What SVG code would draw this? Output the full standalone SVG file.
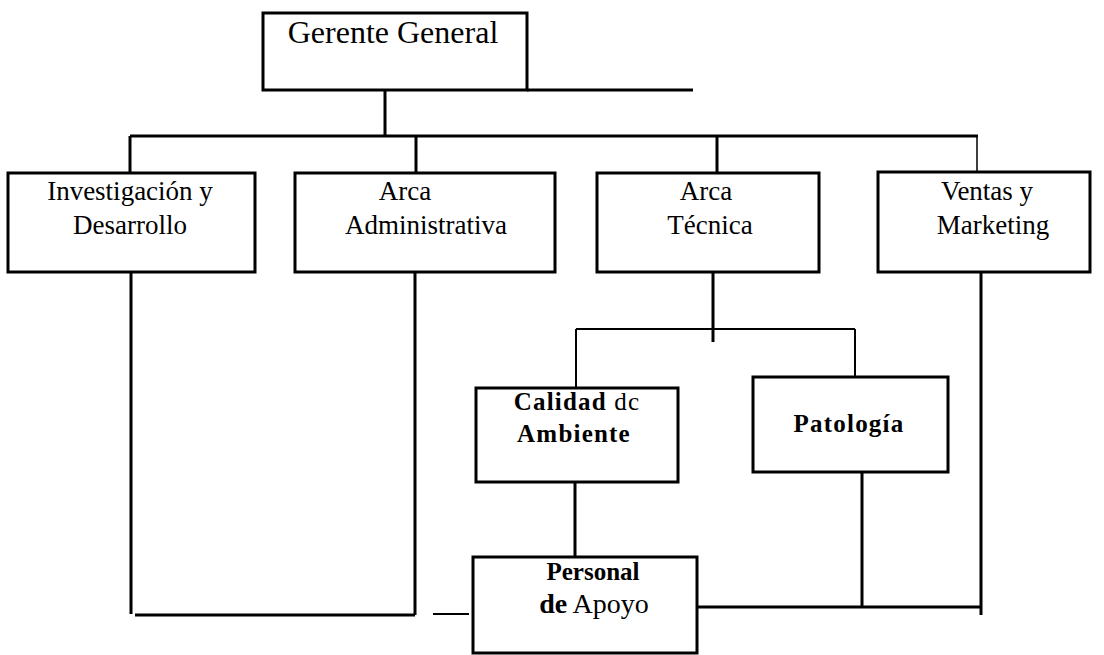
<svg xmlns="http://www.w3.org/2000/svg" width="1104" height="655" viewBox="0 0 1104 655">
<style>
.box{fill:#fff;stroke:#000;stroke-width:3}
.ln{stroke:#000;stroke-width:3;fill:none;stroke-linecap:butt}
.thin{stroke:#000;stroke-width:2;fill:none}
.b{font-weight:bold}
.w{letter-spacing:1.2px}
</style>
<rect width="1104" height="655" fill="#fff"/>
<g id="connectors">
<line class="ln" x1="527" y1="90" x2="693" y2="90"/>
<line class="ln" x1="385" y1="90" x2="385" y2="135"/>
<line class="ln" x1="130" y1="136" x2="978" y2="136"/>
<line class="ln" x1="130" y1="136" x2="130" y2="173"/>
<line class="ln" x1="416" y1="136" x2="416" y2="173"/>
<line class="ln" x1="717" y1="136" x2="717" y2="173"/>
<line class="thin" x1="977" y1="136" x2="977" y2="173" style="stroke-width:1.5"/>
<line class="ln" x1="713" y1="272" x2="713" y2="342"/>
<line class="thin" x1="576" y1="329" x2="855" y2="329"/>
<line class="thin" x1="576" y1="329" x2="576" y2="388"/>
<line class="thin" x1="855" y1="329" x2="855" y2="377"/>
<line class="ln" x1="131" y1="272" x2="131" y2="614"/>
<line class="ln" x1="415" y1="272" x2="415" y2="615"/>
<line class="ln" x1="135" y1="615" x2="415" y2="615"/>
<line class="thin" x1="433" y1="614" x2="469" y2="614"/>
<line class="ln" x1="575" y1="482" x2="575" y2="557"/>
<line class="ln" x1="697" y1="607" x2="981" y2="607"/>
<line class="ln" x1="862" y1="472" x2="862" y2="607"/>
<line class="ln" x1="981" y1="272" x2="981" y2="615"/>
</g>
<g font-family="Liberation Serif, Times New Roman, Times, serif" fill="#000" text-anchor="middle">
<g id="gerente">
<rect class="box" x="263" y="13" width="264" height="77"/>
<text x="393" y="43" font-size="32">Gerente General</text>
</g>
<g id="investigacion">
<rect class="box" x="8" y="173" width="247" height="99"/>
<text x="130" y="200" font-size="27">Investigación y</text>
<text x="130" y="234" font-size="27">Desarrollo</text>
</g>
<g id="administrativa">
<rect class="box" x="295" y="173" width="260" height="99"/>
<text x="405" y="200" font-size="27">Arca</text>
<text x="426" y="234" font-size="27">Administrativa</text>
</g>
<g id="tecnica">
<rect class="box" x="597" y="173" width="222" height="99"/>
<text x="706" y="200" font-size="27">Arca</text>
<text x="710" y="234" font-size="27">Técnica</text>
</g>
<g id="ventas">
<rect class="box" x="878" y="172" width="212" height="100"/>
<text x="987" y="200" font-size="27">Ventas y</text>
<text x="993" y="234" font-size="27">Marketing</text>
</g>
<g id="calidad">
<rect class="box" x="476" y="388" width="202" height="94"/>
<text x="577" y="410" font-size="25" class="w"><tspan class="b">Calidad</tspan> dc</text>
<text class="b w" x="574" y="442" font-size="25">Ambiente</text>
</g>
<g id="patologia">
<rect class="box" x="753" y="377" width="195" height="95"/>
<text class="b w" x="849" y="432" font-size="25">Patología</text>
</g>
<g id="personal">
<rect class="box" x="473" y="557" width="224" height="96"/>
<text class="b" x="593" y="580" font-size="25">Personal</text>
<text x="594" y="613" font-size="28"><tspan class="b">de</tspan> Apoyo</text>
</g>
</g>
</svg>
